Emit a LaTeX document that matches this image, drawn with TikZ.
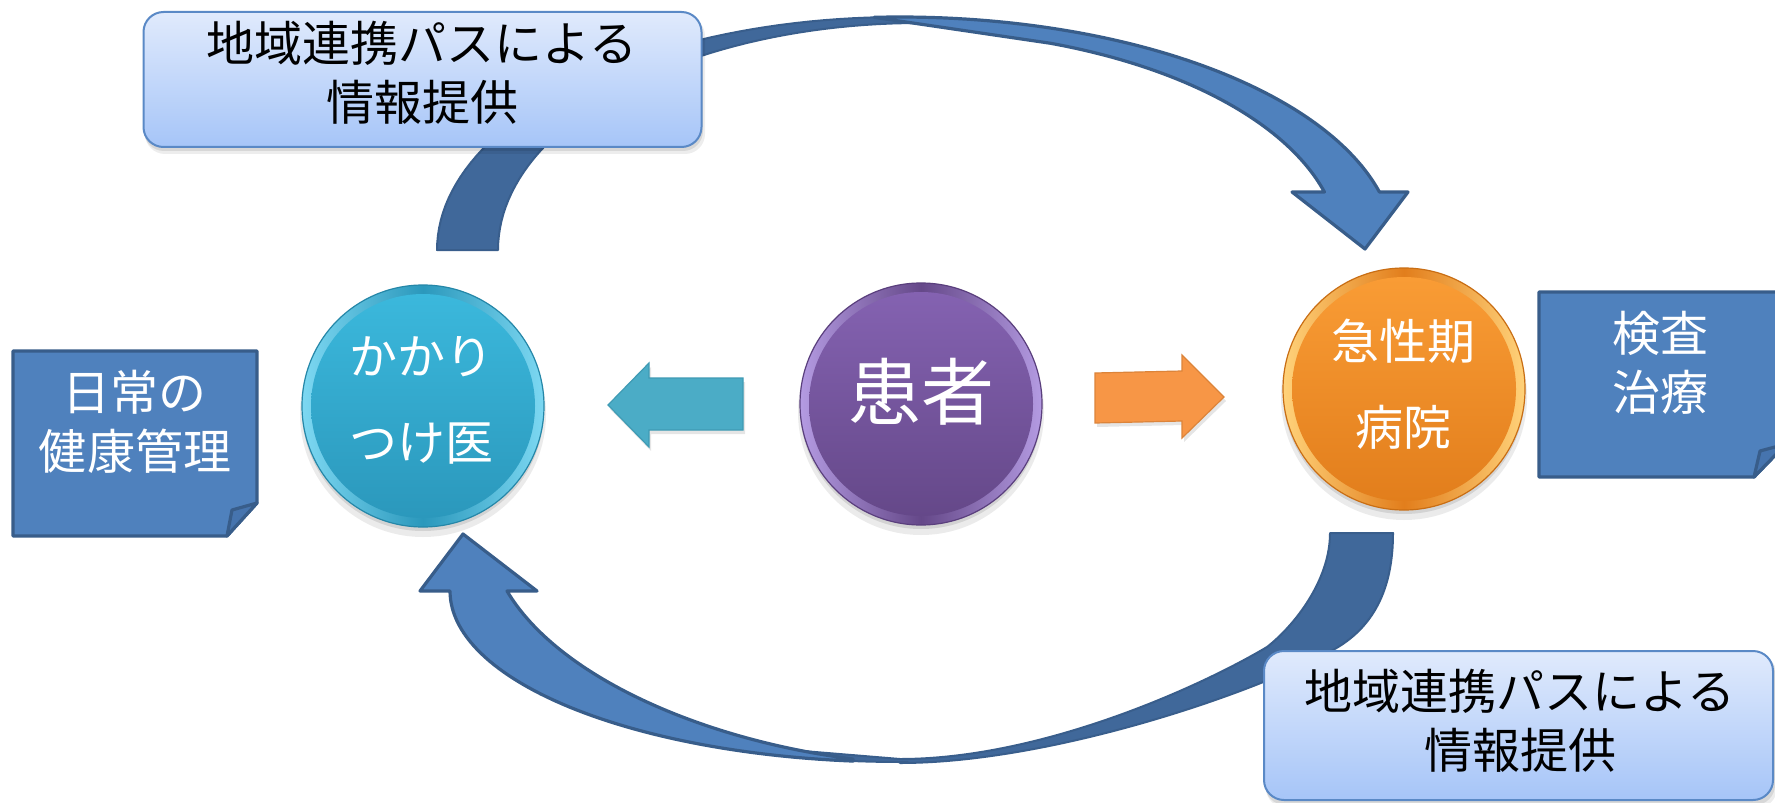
\documentclass[tikz,border=0pt]{standalone}
\usepackage{fontspec}
\newfontfamily\jp{Noto Sans CJK JP}
\definecolor{backfill}{HTML}{40689A}
\definecolor{backline}{HTML}{395E8C}
\definecolor{frontfill}{HTML}{4F81BD}
\definecolor{frontline}{HTML}{385D8A}
\definecolor{lbtop}{HTML}{E0EAFC}
\definecolor{lbbot}{HTML}{A6C5F8}
\definecolor{lbline}{HTML}{5A89C6}
\definecolor{cyantop}{HTML}{3BB8DC}
\definecolor{cyanbot}{HTML}{2B98BC}
\definecolor{cyanrim}{HTML}{7DD8F2}
\definecolor{cyanedge}{HTML}{2587A8}
\definecolor{purtop}{HTML}{8462B1}
\definecolor{purbot}{HTML}{654889}
\definecolor{purrim}{HTML}{B49BE2}
\definecolor{puredge}{HTML}{5A3F7D}
\definecolor{ortop}{HTML}{F99C35}
\definecolor{orbot}{HTML}{E27E1C}
\definecolor{orrim}{HTML}{FFD27A}
\definecolor{oredge}{HTML}{C96E14}
\definecolor{cyanarrow}{HTML}{4BACC6}
\definecolor{cyanarrowline}{HTML}{3F9BB4}
\definecolor{orarrow}{HTML}{F79646}
\definecolor{orarrowline}{HTML}{DC843A}
\definecolor{notefill}{HTML}{4F81BD}
\definecolor{noteline}{HTML}{385D8A}
\definecolor{notefold}{HTML}{4674AE}
\newcommand\glossball[9]{%
  \fill[black, opacity=.08] (#2,#3+8) circle (#4+1pt);
  \fill[black, opacity=.10] (#2,#3+4) circle (#4);
  \node[circle, inner sep=0pt, minimum size=2*#4, left color=#8, right color=#8, middle color=#7, draw=#9, line width=.6pt] (#1) at (#2,#3) {};
  \shade[top color=#6, bottom color=#7] (#1.center) circle (#5);
}
\tikzset{
  txt/.style={align=center, inner sep=0pt, font=\jp\fontsize{24pt}{29.5pt}\selectfont},
  balltxt/.style={align=center, inner sep=0pt, text=white, font=\jp\fontsize{24pt}{43pt}\selectfont},
  lightbox/.style={rectangle, rounded corners=10pt, top color=lbtop, bottom color=lbbot, draw=lbline, line width=1pt, inner sep=0pt},
  backpart/.style={fill=backfill, draw=backline, line width=1pt, line join=round},
  frontpart/.style={fill=frontfill, draw=frontline, line width=1.6pt, line join=round},
  notebox/.style={fill=notefill, draw=noteline, line width=1.6pt, line join=round},
  blockarrow/.style={line width=.6pt, line join=miter}
}
\begin{document}
\begin{tikzpicture}[x=0.5pt,y=-0.5pt]
\clip (0,0) rectangle (1775,802);
\useasboundingbox (0,0) rectangle (1775,802);
\fill[white] (0,0) rectangle (1775,802);

% ---- back parts of curved arrows
\path[backpart] plot[domain=180:72, samples=60] ({900+463*cos(\x)},{250-233*sin(\x)})
  -- plot[domain=72:180, samples=60] ({920+422*cos(\x)},{250-227*sin(\x)}) -- cycle;
\path[backpart] (1393,533) .. controls (1393,590) and (1373,628) .. (1333,650)
  .. controls (1253,694) and (1050,763) .. (900,763)
  -- plot[domain=91:76, samples=15] ({900-450*cos(\x)},{591+171*sin(\x)})
  -- (791,750) -- (900,759)
  .. controls (1040,759) and (1198,688) .. (1267,647)
  .. controls (1295,625) and (1330,580) .. (1330,533) -- cycle;

% ---- light label boxes
\fill[black, opacity=.07, rounded corners=10pt] (145,16) rectangle (705,154);
\fill[black, opacity=.09, rounded corners=10pt] (144,14) rectangle (703,151);
\node[lightbox, minimum width=279pt, minimum height=67.5pt] (infoA) at (422.5,79.5) {};
\node[txt] (infoAtxt) at (422,73) {地域連携パスによる\\情報提供};
\fill[black, opacity=.07, rounded corners=10pt] (1266,655) rectangle (1777,808);
\fill[black, opacity=.09, rounded corners=10pt] (1265,653) rectangle (1775,805);
\node[lightbox, minimum width=254.5pt, minimum height=74.5pt] (infoB) at (1518.5,725.5) {};
\node[txt] (infoBtxt) at (1520,721) {地域連携パスによる\\情報提供};

% ---- front parts of curved arrows
\path[frontpart] plot[domain=93:14.41, samples=60] ({900+495*cos(\x)},{250-233*sin(\x)})
  -- (1408,192) -- (1365,249) -- (1292,192)
  -- plot[domain=15.29:70, samples=50] ({900+440*cos(\x)},{250-220*sin(\x)}) -- cycle;
\path[frontpart] plot[domain=84:0, samples=60] ({900-450*cos(\x)},{591+171*sin(\x)})
  -- (420,591) -- (463,534) -- (537,591) -- (507,591)
  .. controls (558,677) and (703,740) .. (853,759) -- cycle;

% ---- circles
\glossball{kakari}{423}{406}{60.5pt}{56pt}{cyantop}{cyanbot}{cyanrim}{cyanedge}
\node[balltxt] (kakaritxt) at (421,400) {かかり\\つけ医};
\glossball{kanja}{921}{404}{60.5pt}{56pt}{purtop}{purbot}{purrim}{puredge}
\node[balltxt, font=\jp\fontsize{36.5pt}{40pt}\selectfont] (kanjatxt) at (921,392) {患者};
\glossball{kyusei}{1404}{389}{60.5pt}{56pt}{ortop}{orbot}{orrim}{oredge}
\node[balltxt] (kyuseitxt) at (1403,384) {急性期\\病院};

% ---- block arrows
\fill[black, opacity=.10] (745,382) -- (651,382) -- (651,367) -- (610,409) -- (651,451) -- (651,434) -- (745,434) -- cycle;
\path[blockarrow, fill=cyanarrow, draw=cyanarrowline] (743,378) -- (649,378) -- (649,363) -- (608,405) -- (649,447) -- (649,430) -- (743,430) -- cycle;
\fill[black, opacity=.10] (1097,376) -- (1184,375) -- (1184,359) -- (1226,401) -- (1184,442) -- (1184,425) -- (1097,427) -- cycle;
\path[blockarrow, fill=orarrow, draw=orarrowline] (1095,373) -- (1182,371) -- (1182,355) -- (1224,397) -- (1182,438) -- (1182,421) -- (1095,423) -- cycle;

% ---- note boxes
\path[notebox] (13,351) -- (257,351) -- (257,503) -- (227,536) -- (13,536) -- cycle;
\path[notebox, fill=notefold] (257,503) -- (232,510) -- (227,536) -- cycle;
\node[txt, text=white] (dailytxt) at (135,422) {日常の\\健康管理};
\path[notebox] (1539,292) -- (1786,292) -- (1786,444) -- (1754,477) -- (1539,477) -- cycle;
\path[notebox, fill=notefold] (1786,444) -- (1760,451) -- (1754,477) -- cycle;
\node[txt, text=white] (examtxt) at (1660,362.5) {検査\\治療};
\end{tikzpicture}
\end{document}
